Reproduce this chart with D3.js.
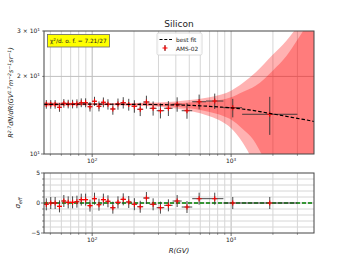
<!DOCTYPE html>
<html>
<head>
<meta charset="utf-8">
<script src="https://cdn.jsdelivr.net/npm/d3@7"></script>
<style>
  body { margin: 0; background: #fff; }
  text { font-family: "DejaVu Sans", sans-serif; fill: #222; }
</style>
</head>
<body>
<div id="chart"></div>
<script>
// AMS-02 silicon rigidity bins (GV)
const binLo = [45.1, 48.5, 52.2, 56.1, 60.3, 64.8, 69.7, 74.9, 80.5, 86.5, 93, 100, 108, 116, 125, 135, 147, 160, 175, 192, 211, 233, 259, 291, 330, 379, 441, 525, 660, 880, 1200]
const binHi = [48.5, 52.2, 56.1, 60.3, 64.8, 69.7, 74.9, 80.5, 86.5, 93, 100, 108, 116, 125, 135, 147, 160, 175, 192, 211, 233, 259, 291, 330, 379, 441, 525, 660, 880, 1200, 3000]
// R^2.7 * flux and its error
const flux = [15.59, 15.59, 15.59, 15.18, 15.73, 15.63, 15.63, 15.67, 15.81, 15.81, 15.26, 16.02, 15.31, 15.87, 15.59, 14.95, 15.63, 15.81, 15.55, 15.31, 14.91, 15.91, 15.04, 14.72, 15.04, 15.59, 14.72, 15.95, 16.05, 15.12, 14.26]
const fluxErr = [0.6, 0.6, 0.6, 0.6, 0.6, 0.6, 0.6, 0.62, 0.62, 0.63, 0.65, 0.65, 0.68, 0.7, 0.72, 0.75, 0.78, 0.8, 0.82, 0.85, 0.88, 0.92, 0.95, 0.98, 1.0, 1.0, 1.02, 1.05, 1.1, 1.25, 2.4]
// residuals (sigma_eff)
const resid = [-0.22, 0, 0, -0.56, 0.33, 0.11, 0.11, 0.22, 0.56, 0.56, -0.44, 0.72, -0.28, 0.56, 0.28, -0.78, 0.11, 0.61, 0.17, -0.2, -0.62, 0.83, -0.22, -0.78, -0.39, 0.33, -0.67, 0.72, 0.72, 0, 0]

// best fit curve and its 1 / 2 sigma bands
const fitR = [45, 100, 200, 300, 400, 500, 600, 700, 850, 1000, 1200, 1500, 2000, 2500, 3000, 3500, 4000]
const fitFlux = [15.58, 15.6, 15.58, 15.55, 15.5, 15.45, 15.38, 15.3, 15.2, 15.1, 14.95, 14.7, 14.3, 14.0, 13.75, 13.55, 13.35]
const sig1 = [0.15, 0.08, 0.1, 0.15, 0.25, 0.4, 0.55, 0.75, 1.05, 1.5, 2.4, 3.7, 6.8, 10, 14, 18, 22]
const sig2 = [0.3, 0.16, 0.2, 0.3, 0.5, 0.75, 1.0, 1.3, 1.8, 2.5, 3.8, 6.0, 10, 13.5, 17.5, 22, 27]

const xMinor = [50, 60, 70, 80, 90, 200, 300, 400, 500, 600, 700, 800, 900, 2000, 3000]
const xMajor = [100, 1000]

const W = 349, H = 262
const left = 44, right = 314
const top1 = 31, bot1 = 154
const top2 = 173, bot2 = 233

const x = d3.scaleLog().domain([45, 3950]).range([left, right])
const y = d3.scaleLog().domain([10, 30]).range([bot1, top1])
const y2 = d3.scaleLinear().domain([-5, 5]).range([bot2, top2])

const svg = d3.select("#chart").append("svg")
  .attr("width", W).attr("height", H)

const defs = svg.append("defs")
defs.append("clipPath").attr("id", "clip1")
  .append("rect").attr("x", left).attr("y", top1).attr("width", right - left).attr("height", bot1 - top1)
defs.append("clipPath").attr("id", "clip2")
  .append("rect").attr("x", left).attr("y", top2).attr("width", right - left).attr("height", bot2 - top2)

// text with super/subscripts, parts = [[str, "sup"|"sub"|null], ...]
function mathText(sel, parts, size) {
  let cur = 0
  parts.forEach(p => {
    const target = p[1] === "sup" ? -0.38 * size : p[1] === "sub" ? 0.25 * size : 0
    const t = sel.append("tspan").text(p[0])
    if (target !== cur) t.attr("dy", target - cur)
    if (p[1]) t.attr("font-size", size * 0.7)
    cur = target
  })
  return sel
}

// ---- grids
function drawGrid(g, y0, y1) {
  g.selectAll(".gmin").data(xMinor).enter().append("line")
    .attr("x1", d => x(d)).attr("x2", d => x(d)).attr("y1", y0).attr("y2", y1)
    .attr("stroke", "#d6d6d6").attr("stroke-width", 1)
  g.selectAll(".gmaj").data(xMajor).enter().append("line")
    .attr("x1", d => x(d)).attr("x2", d => x(d)).attr("y1", y0).attr("y2", y1)
    .attr("stroke", "#b8b8b8").attr("stroke-width", 1)
}
const g1 = svg.append("g")
drawGrid(g1, top1, bot1)
g1.append("line").attr("x1", left).attr("x2", right).attr("y1", y(20)).attr("y2", y(20))
  .attr("stroke", "#c0c0c0")

const g2 = svg.append("g")
drawGrid(g2, top2, bot2)
g2.selectAll(".hy").data(d3.range(-4, 5)).enter().append("line")
  .attr("x1", left).attr("x2", right).attr("y1", d => y2(d)).attr("y2", d => y2(d))
  .attr("stroke", d => d === 0 ? "#b8b8b8" : "#d6d6d6")

// ---- bands
const bandData = fitR.map((r, i) => ({ r, f: fitFlux[i], s1: sig1[i], s2: sig2[i] }))
const plot1 = svg.append("g").attr("clip-path", "url(#clip1)")
const areaFor = k => d3.area()
  .x(d => x(d.r))
  .y0(d => y(Math.max(1, d.f - d[k])))
  .y1(d => y(d.f + d[k]))
  .curve(d3.curveMonotoneX)
plot1.append("path").datum(bandData).attr("d", areaFor("s2"))
  .attr("fill", "#ff0000").attr("fill-opacity", 0.3)
plot1.append("path").datum(bandData).attr("d", areaFor("s1"))
  .attr("fill", "#ff0000").attr("fill-opacity", 0.3)

// ---- data points
const pts = flux.map((v, i) => ({
  r: Math.sqrt(binLo[i] * binHi[i]), lo: binLo[i], hi: binHi[i], v, e: fluxErr[i], res: resid[i]
}))

function drawPoints(g, yScale, val, errLo, errHi) {
  const p = g.selectAll(".pt").data(pts).enter().append("g")
  p.append("line").attr("x1", d => x(d.lo)).attr("x2", d => x(d.hi))
    .attr("y1", d => yScale(val(d))).attr("y2", d => yScale(val(d)))
    .attr("stroke", "#333").attr("stroke-width", 0.9)
  p.append("line").attr("x1", d => x(d.r)).attr("x2", d => x(d.r))
    .attr("y1", d => yScale(errLo(d))).attr("y2", d => yScale(errHi(d)))
    .attr("stroke", "#333").attr("stroke-width", 0.9)
  p.append("path")
    .attr("d", d => {
      const cx = x(d.r), cy = yScale(val(d))
      return `M${cx - 2.5},${cy}H${cx + 2.5}M${cx},${cy - 2.5}V${cy + 2.5}`
    })
    .attr("stroke", "#ff0000").attr("stroke-width", 1.1)
}
drawPoints(plot1, y, d => d.v, d => d.v - d.e, d => d.v + d.e)

// fit line
plot1.append("path").datum(bandData)
  .attr("d", d3.line().x(d => x(d.r)).y(d => y(d.f)).curve(d3.curveMonotoneX))
  .attr("fill", "none").attr("stroke", "#000").attr("stroke-width", 1.2)
  .attr("stroke-dasharray", "3.5,2")

// bottom panel
const plot2 = svg.append("g").attr("clip-path", "url(#clip2)")
plot2.append("line").attr("x1", left).attr("x2", right).attr("y1", y2(0)).attr("y2", y2(0))
  .attr("stroke", "#008000").attr("stroke-width", 1.3).attr("stroke-dasharray", "4,2")
drawPoints(plot2, y2, d => d.res, d => d.res - 1, d => d.res + 1)

// ---- frames and ticks
function frame(y0, y1) {
  svg.append("rect").attr("x", left).attr("y", y0).attr("width", right - left).attr("height", y1 - y0)
    .attr("fill", "none").attr("stroke", "#444").attr("stroke-width", 1)
}
frame(top1, bot1)
frame(top2, bot2)

function xTicks(yb, labelY) {
  svg.selectAll(null).data(xMinor).enter().append("line")
    .attr("x1", d => x(d)).attr("x2", d => x(d)).attr("y1", yb).attr("y2", yb + 1.8)
    .attr("stroke", "#444").attr("stroke-width", 0.6)
  svg.selectAll(null).data(xMajor).enter().append("line")
    .attr("x1", d => x(d)).attr("x2", d => x(d)).attr("y1", yb).attr("y2", yb + 3)
    .attr("stroke", "#444").attr("stroke-width", 0.8)
  xMajor.forEach(d => {
    const t = svg.append("text").attr("x", x(d)).attr("y", labelY)
      .attr("text-anchor", "middle").attr("font-size", 6)
    mathText(t, [["10", null], [String(Math.log10(d)), "sup"]], 6)
  })
}
xTicks(bot1, 163)
xTicks(bot2, 242)

// top y ticks
const yTop = [[30, "3 × 10"], [20, "2 × 10"], [10, "10"]]
yTop.forEach(([v, s]) => {
  svg.append("line").attr("x1", left - (v === 10 ? 3 : 1.8)).attr("x2", left)
    .attr("y1", y(v)).attr("y2", y(v)).attr("stroke", "#444").attr("stroke-width", 0.7)
  const t = svg.append("text").attr("x", left - 4).attr("y", y(v) + 2)
    .attr("text-anchor", "end").attr("font-size", 6)
  mathText(t, [[s, null], ["1", "sup"]], 6)
})

// bottom y ticks
d3.range(-5, 6).forEach(v => {
  svg.append("line").attr("x1", left - (v % 5 === 0 ? 3 : 1.8)).attr("x2", left)
    .attr("y1", y2(v)).attr("y2", y2(v)).attr("stroke", "#444").attr("stroke-width", 0.7)
})
;[5, 0, -5].forEach(v => {
  svg.append("text").attr("x", left - 4).attr("y", y2(v) + 2)
    .attr("text-anchor", "end").attr("font-size", 6)
    .text(v < 0 ? "\u2212" + Math.abs(v) : v)
})

// ---- titles / labels
svg.append("text").attr("x", (left + right) / 2).attr("y", 27)
  .attr("text-anchor", "middle").attr("font-size", 9).text("Silicon")

const yl = svg.append("text")
  .attr("transform", `translate(13,${(top1 + bot1) / 2}) rotate(-90)`)
  .attr("text-anchor", "middle").attr("font-size", 6.6).attr("font-style", "italic")
mathText(yl, [["R", null], ["2.7", "sup"], ["dN/dR(GV", null], ["1.7", "sup"], ["m", null], ["−2", "sup"],
  ["s", null], ["−1", "sup"], ["sr", null], ["−1", "sup"], [")", null]], 6.6)

const yl2 = svg.append("text")
  .attr("transform", `translate(20,${y2(0)}) rotate(-90)`)
  .attr("text-anchor", "middle").attr("font-size", 7).attr("font-style", "italic")
mathText(yl2, [["σ", null], ["eff", "sub"]], 7)

svg.append("text").attr("x", (left + right) / 2).attr("y", 253)
  .attr("text-anchor", "middle").attr("font-size", 7).attr("font-style", "italic").text("R(GV)")

// chi2 box
svg.append("rect").attr("x", 47.5).attr("y", 34.5).attr("width", 62).attr("height", 12.5)
  .attr("fill", "#ffff00").attr("stroke", "#666").attr("stroke-width", 0.8)
const chi = svg.append("text").attr("x", 50).attr("y", 43.2).attr("font-size", 5.8)
mathText(chi, [["χ", null], ["2", "sup"], ["/d. o. f. = 7.21/27", null]], 5.8)

// legend
const lg = svg.append("g")
lg.append("rect").attr("x", 157).attr("y", 33).attr("width", 45).attr("height", 22).attr("rx", 1.5)
  .attr("fill", "#fff").attr("fill-opacity", 0.85).attr("stroke", "#d0d0d0").attr("stroke-width", 0.8)
lg.append("line").attr("x1", 159.5).attr("x2", 172).attr("y1", 39.5).attr("y2", 39.5)
  .attr("stroke", "#000").attr("stroke-width", 1.2).attr("stroke-dasharray", "3,1.8")
lg.append("text").attr("x", 176).attr("y", 41.5).attr("font-size", 5.8).text("best fit")
lg.append("line").attr("x1", 165).attr("x2", 165).attr("y1", 45).attr("y2", 51)
  .attr("stroke", "#333").attr("stroke-width", 0.9)
lg.append("path").attr("d", "M162.5,48H167.5M165,45.5V50.5")
  .attr("stroke", "#ff0000").attr("stroke-width", 1.1)
lg.append("text").attr("x", 176).attr("y", 50.5).attr("font-size", 5.8).text("AMS-02")
</script>
</body>
</html>
